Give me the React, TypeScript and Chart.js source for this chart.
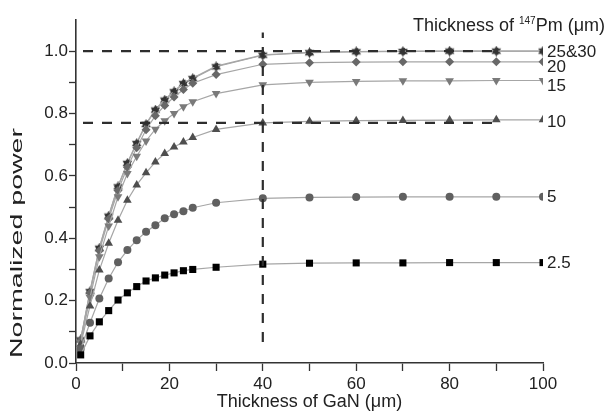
import React, { useEffect, useRef } from "react";
import { Chart, registerables } from "chart.js";

Chart.register(...registerables);

const gaNThickness = [1, 3, 5, 7, 9, 11, 13, 15, 17, 19, 21, 23, 25, 30, 40, 50, 60, 70, 80, 90, 100];

const pm2_5 = [0.026, 0.087, 0.132, 0.168, 0.202, 0.225, 0.245, 0.263, 0.273, 0.282, 0.289, 0.296, 0.300, 0.307, 0.317, 0.320, 0.321, 0.321, 0.322, 0.322, 0.322];
const pm5 = [0.045, 0.129, 0.207, 0.271, 0.323, 0.362, 0.394, 0.421, 0.442, 0.464, 0.477, 0.487, 0.498, 0.514, 0.528, 0.531, 0.532, 0.533, 0.533, 0.533, 0.533];
const pm10 = [0.060, 0.183, 0.298, 0.384, 0.458, 0.522, 0.571, 0.610, 0.645, 0.672, 0.693, 0.709, 0.723, 0.749, 0.770, 0.775, 0.777, 0.778, 0.779, 0.780, 0.780];
const pm15 = [0.066, 0.210, 0.341, 0.439, 0.533, 0.608, 0.663, 0.712, 0.750, 0.777, 0.800, 0.822, 0.838, 0.864, 0.892, 0.900, 0.903, 0.905, 0.905, 0.906, 0.906];
const pm20 = [0.072, 0.225, 0.360, 0.462, 0.553, 0.628, 0.690, 0.748, 0.793, 0.826, 0.853, 0.877, 0.897, 0.925, 0.958, 0.963, 0.965, 0.966, 0.966, 0.966, 0.966];
const pm25 = [0.074, 0.229, 0.368, 0.471, 0.565, 0.640, 0.704, 0.765, 0.811, 0.843, 0.870, 0.896, 0.912, 0.950, 0.987, 0.995, 0.998, 0.999, 1.000, 1.000, 1.000];
const pm30 = [0.075, 0.231, 0.370, 0.473, 0.567, 0.642, 0.706, 0.767, 0.813, 0.845, 0.872, 0.898, 0.914, 0.952, 0.988, 0.996, 0.999, 1.000, 1.000, 1.000, 1.000];

const seriesLabels = ["2.5", "5", "10", "15", "20", "25&30"];

const hLine1X = [0, 90];
const hLine1Y = [1.0, 1.0];
const hLine2X = [0, 90];
const hLine2Y = [0.77, 0.77];
const vLineX = [40, 40];
const vLineY = [0.045, 1.06];

const xTicksMax = 100;
const yTicksMax = 1.1;

function toPoints(xs: number[], ys: number[]) {
  return xs.map((x, i) => ({ x, y: ys[i] }));
}

function makeStar(color: string, size: number) {
  const c = document.createElement("canvas");
  c.width = size;
  c.height = size;
  const ctx = c.getContext("2d")!;
  const cx = size / 2;
  const cy = size / 2;
  const r = size / 2;
  ctx.fillStyle = color;
  for (const rot of [0, Math.PI]) {
    ctx.beginPath();
    for (let k = 0; k < 3; k++) {
      const a = rot - Math.PI / 2 + (k * 2 * Math.PI) / 3;
      const px = cx + r * Math.cos(a);
      const py = cy + r * Math.sin(a);
      if (k === 0) ctx.moveTo(px, py);
      else ctx.lineTo(px, py);
    }
    ctx.closePath();
    ctx.fill();
  }
  return c;
}

const FONT = '"Liberation Sans", Arial, sans-serif';

const textPlugin = {
  id: "textPlugin",
  afterDraw(chart: any) {
    const { ctx, chartArea, scales } = chart;
    ctx.save();
    ctx.fillStyle = "#222";
    ctx.font = `17px ${FONT}`;
    ctx.textBaseline = "middle";
    ctx.textAlign = "left";
    const ends = [pm2_5, pm5, pm10, pm15, pm20, pm25];
    const offs = [1, 1, 3, 6, 6, 1];
    ends.forEach((arr, i) => {
      const y = scales.y.getPixelForValue(arr[arr.length - 1]) + offs[i];
      ctx.fillText(seriesLabels[i], chartArea.right + 4, y);
    });

    // top-right legend title with superscript
    const right = 605;
    const base = 31;
    ctx.textBaseline = "alphabetic";
    const big = `18px ${FONT}`;
    const small = `10px ${FONT}`;
    ctx.font = big;
    const t1 = "Thickness of ";
    const t3 = "Pm (\u03bcm)";
    const w1 = ctx.measureText(t1).width;
    const w3 = ctx.measureText(t3).width;
    ctx.font = small;
    const t2 = "147";
    const w2 = ctx.measureText(t2).width;
    let x = right - (w1 + w2 + w3);
    ctx.font = big;
    ctx.fillText(t1, x, base);
    x += w1;
    ctx.font = small;
    ctx.fillText(t2, x, base - 7);
    x += w2;
    ctx.font = big;
    ctx.fillText(t3, x, base);

    // y axis title (stretched along its direction like the original)
    ctx.font = `16px ${FONT}`;
    const yt = "Normalized power";
    const wt = ctx.measureText(yt).width;
    const target = 230;
    ctx.translate(18, 243);
    ctx.rotate(-Math.PI / 2);
    ctx.scale(target / wt, 1);
    ctx.textAlign = "center";
    ctx.textBaseline = "middle";
    ctx.fillText(yt, 0, 0);
    ctx.restore();
  },
};

export default function App() {
  const ref = useRef<HTMLCanvasElement | null>(null);

  useEffect(() => {
    document.body.style.margin = "0";
    const canvas = ref.current!;
    const lineColor = "#a6a6a6";
    const mk = (label: string, ys: number[], color: string, style: any, radius: number, rotation = 0) => ({
      label,
      data: toPoints(gaNThickness, ys),
      borderColor: lineColor,
      borderWidth: 1.2,
      backgroundColor: color,
      pointBackgroundColor: color,
      pointBorderColor: color,
      pointBorderWidth: 0,
      pointStyle: style,
      pointRadius: radius,
      pointRotation: rotation,
      showLine: true,
      order: 5,
    });
    const dash = (xs: number[], ys: number[]) => ({
      label: "",
      data: toPoints(xs, ys),
      borderColor: "#2e2e2e",
      borderWidth: 2.2,
      borderDash: [10, 9],
      borderDashOffset: 12,
      pointRadius: 0,
      showLine: true,
      order: 0,
    });
    const star = makeStar("#3a3a3a", 11);
    const chart = new Chart(canvas, {
      type: "scatter",
      data: {
        datasets: [
          dash(hLine1X, hLine1Y),
          dash(hLine2X, hLine2Y),
          dash(vLineX, vLineY),
          mk("2.5", pm2_5, "#000000", "rect", 5),
          mk("5", pm5, "#606060", "circle", 4),
          mk("10", pm10, "#4e4e4e", "triangle", 5),
          mk("15", pm15, "#7a7a7a", "triangle", 5, 180),
          mk("20", pm20, "#686868", "rectRot", 4.5),
          mk("30", pm30, "#333333", "triangle", 4, -90),
          { ...mk("25", pm25, "#3a3a3a", star, 5), pointStyle: star },
        ] as any,
      },
      options: {
        animation: false,
        responsive: false,
        maintainAspectRatio: false,
        layout: { padding: { top: 20, right: 64, left: 0, bottom: 0 } },
        plugins: {
          legend: { display: false },
          tooltip: { enabled: false },
        },
        scales: {
          x: {
            type: "linear",
            min: 0,
            max: xTicksMax,
            afterFit: (s: any) => {
              s.height = 52;
            },
            ticks: {
              stepSize: 10,
              autoSkip: false,
              maxRotation: 0,
              padding: 3,
              color: "#222",
              font: { family: FONT, size: 17 },
              callback: (v: any) => (Math.round(v) % 20 === 0 ? String(Math.round(v)) : ""),
            },
            grid: {
              drawOnChartArea: false,
              drawTicks: true,
              tickLength: 8,
              tickColor: "#333",
              tickWidth: 1.3,
            },
            border: { display: true, color: "#333", width: 1.6 },
            title: {
              display: true,
              text: "Thickness of GaN (\u03bcm)",
              color: "#222",
              font: { family: FONT, size: 18 },
              padding: { top: 0, bottom: 2 },
            },
          },
          y: {
            type: "linear",
            min: 0,
            max: yTicksMax,
            afterFit: (s: any) => {
              s.width = 76;
            },
            ticks: {
              stepSize: 0.1,
              autoSkip: false,
              padding: 1,
              color: "#222",
              font: { family: FONT, size: 17 },
              callback: (v: any) => {
                const k = Math.round(v * 10);
                return k % 2 === 0 && k <= 10 ? (k / 10).toFixed(1) : "";
              },
            },
            grid: {
              drawOnChartArea: false,
              drawTicks: true,
              tickLength: 7,
              tickWidth: 1.3,
              tickColor: (ctx: any) => (ctx.tick && Math.round(ctx.tick.value * 10) > 10 ? "rgba(0,0,0,0)" : "#333"),
            },
            border: { display: true, color: "#333", width: 1.6 },
          },
        },
      },
      plugins: [textPlugin],
    });
    return () => chart.destroy();
  }, []);

  return (
    <div style={{ position: "absolute", left: 0, top: 0, width: 607, height: 415, background: "#fff" }}>
      <canvas ref={ref} width={607} height={415} style={{ width: 607, height: 415 }} />
    </div>
  );
}
